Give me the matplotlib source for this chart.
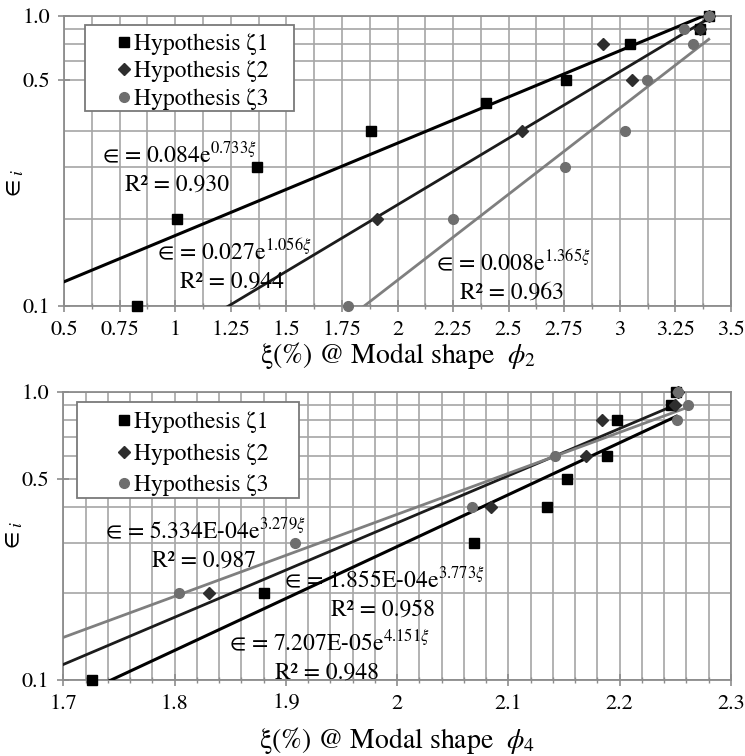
import numpy as np
import matplotlib
matplotlib.use("Agg")
import matplotlib.pyplot as plt
from matplotlib.lines import Line2D
from matplotlib.patches import Rectangle

plt.rcParams['font.family'] = ['STIXGeneral', 'DejaVu Serif']
plt.rcParams['mathtext.fontset'] = 'stix'

# ---------------- data: modal shape phi_2 (top) ----------------
top_z1_x = [0.827, 1.007, 1.37, 1.88, 2.40, 2.757, 3.044, 3.36, 3.40]
top_z1_y = [0.1, 0.2, 0.3, 0.4, 0.5, 0.6, 0.8, 0.9, 1.0]
top_z2_x = [1.91, 2.56, 2.926, 3.055, 3.36, 3.40]
top_z2_y = [0.2, 0.4, 0.8, 0.6, 0.9, 1.0]
top_z3_x = [1.776, 2.25, 2.755, 3.025, 3.12, 3.29, 3.33, 3.40]
top_z3_y = [0.1, 0.2, 0.3, 0.4, 0.6, 0.9, 0.8, 1.0]
top_fit_a = [0.084, 0.027, 0.008]
top_fit_b = [0.733, 1.056, 1.365]
top_fit_eq = ["0.084", "0.027", "0.008"]
top_fit_exp = ["0.733", "1.056", "1.365"]
top_fit_r2 = ["0.930", "0.944", "0.963"]
top_xticks = [0.5, 0.75, 1.0, 1.25, 1.5, 1.75, 2.0, 2.25, 2.5, 2.75, 3.0, 3.25, 3.5]
top_xticklabels = ["0.5", "0.75", "1", "1.25", "1.5", "1.75", "2", "2.25", "2.5", "2.75", "3", "3.25", "3.5"]
# reference places its "0.5" label on the 0.6 gridline (and shows no 0.5 gridline)
top_yticks = [0.1, 0.6, 1.0]
top_yticklabels = ["0.1", "0.5", "1.0"]
top_yminor = [0.2, 0.3, 0.4, 0.7, 0.8, 0.9]

# ---------------- data: modal shape phi_4 (bottom) ----------------
bot_z1_x = [1.7257, 1.880, 2.069, 2.135, 2.153, 2.189, 2.198, 2.246, 2.251]
bot_z1_y = [0.1, 0.2, 0.3, 0.4, 0.5, 0.6, 0.8, 0.9, 1.0]
bot_z2_x = [1.8305, 2.084, 2.170, 2.184, 2.250, 2.252]
bot_z2_y = [0.2, 0.4, 0.6, 0.8, 0.9, 1.0]
bot_z3_x = [1.8036, 1.908, 2.0676, 2.142, 2.2516, 2.2613, 2.252]
bot_z3_y = [0.2, 0.3, 0.4, 0.6, 0.8, 0.9, 1.0]
bot_fit_a = [7.207e-05, 1.855e-04, 5.334e-04]
bot_fit_b = [4.151, 3.773, 3.279]
bot_fit_eq = ["7.207E-05", "1.855E-04", "5.334E-04"]
bot_fit_exp = ["4.151", "3.773", "3.279"]
bot_fit_r2 = ["0.948", "0.958", "0.987"]
bot_xticks = [1.7, 1.8, 1.9, 2.0, 2.1, 2.2, 2.3]
bot_xticklabels = ["1.7", "1.8", "1.9", "2", "2.1", "2.2", "2.3"]
bot_yticks = [0.1, 0.5, 1.0]
bot_yticklabels = ["0.1", "0.5", "1.0"]
bot_yminor = [0.2, 0.3, 0.4, 0.6, 0.7, 0.8, 0.9]

labels = ["Hypothesis ζ1", "Hypothesis ζ2", "Hypothesis ζ3"]
mcol = ["#000000", "#2e2e2e", "#6e6e6e"]
lcol = ["#000000", "#1c1c1c", "#7f7f7f"]
mark = ["s", "D", "o"]
msize = [6.5, 6.0, 7.0]

W, H = 745, 756
fig = plt.figure(figsize=(W / 100, H / 100), dpi=100)

def fx(x):
    return x / W

def fy(y):
    return 1 - y / H

def fpos(l, t, r, b):
    return [l / W, 1 - b / H, (r - l) / W, (b - t) / H]

GRID = "#a6a6a6"
SPINE = "#8c8c8c"

def style_axes(ax, xlim, xticks, xticklabels, xminor, yticks, yticklabels, yminor):
    ax.set_yscale("log")
    ax.set_xlim(*xlim)
    ax.set_ylim(0.1, 1.0)
    ax.set_xticks(xticks)
    ax.set_xticklabels(xticklabels)
    ax.set_xticks(xminor, minor=True)
    ax.set_yticks(yticks)
    ax.set_yticklabels(yticklabels)
    ax.set_yticks(yminor, minor=True)
    ax.yaxis.set_minor_formatter(matplotlib.ticker.NullFormatter())
    ax.grid(True, which="both", color=GRID, linewidth=1.2)
    ax.set_axisbelow(True)
    for s in ax.spines.values():
        s.set_color(SPINE)
        s.set_linewidth(1.3)
    ax.tick_params(axis="both", which="major", direction="inout", length=8,
                   width=1.2, color=SPINE, labelsize=16, pad=6)
    ax.tick_params(axis="x", which="minor", direction="inout", length=4,
                   width=1.0, color=SPINE)
    ax.tick_params(axis="y", which="minor", length=0)

def draw(ax, xs, ys, a, b, xmin):
    for i in range(3):
        xx = np.linspace(xmin[i], max(xs[i]), 200)
        ax.plot(xx, a[i] * np.exp(b[i] * xx), color=lcol[i], lw=2.2 if i == 0 else 2.0,
                zorder=3)
    for i in range(3):
        ax.plot(xs[i], ys[i], linestyle="none", marker=mark[i], ms=msize[i],
                color=mcol[i], mec=mcol[i], zorder=4, clip_on=False)

def legend(l, t, r, b, mx, tx, rows):
    fig.add_artist(Rectangle((fx(l), fy(b)), fx(r) - fx(l), fy(t) - fy(b),
                             transform=fig.transFigure, facecolor="white",
                             edgecolor="#7a7a7a", linewidth=1.3, zorder=5))
    for i in range(3):
        fig.add_artist(Line2D([fx(mx)], [fy(rows[i])], linestyle="none",
                              marker=mark[i], ms=msize[i], color=mcol[i],
                              transform=fig.transFigure, zorder=6))
        fig.text(fx(tx), fy(rows[i]), labels[i], fontsize=17, va="center_baseline",
                 ha="left", zorder=6)

def eq(xpix, ypix, coef, expo, r2, dx):
    fig.text(xpix / W, 1 - ypix / H, "∈ = " + coef + "e$^{" + expo + "\\xi}$",
             fontsize=17, va="baseline", ha="left", zorder=6)
    fig.text((xpix + dx) / W, 1 - (ypix + 29) / H, "R² = " + r2,
             fontsize=17, va="baseline", ha="left", zorder=6)

# ---------------- top chart ----------------
ax1 = fig.add_axes(fpos(64, 15.7, 731, 306))
style_axes(ax1, (0.5, 3.5), top_xticks, top_xticklabels,
           np.arange(0.5, 3.5001, 0.125), top_yticks, top_yticklabels, top_yminor)
draw(ax1, [top_z1_x, top_z2_x, top_z3_x], [top_z1_y, top_z2_y, top_z3_y],
     top_fit_a, top_fit_b, [0.5, 0.5, 0.5])
legend(85, 25, 294, 111, 124, 134, [42, 69, 97])
ax1.set_xlabel("ξ(%) @ Modal shape  $\\phi_2$", fontsize=20, labelpad=0)
ax1.set_ylabel("$\\in_i$", fontsize=18)
ax1.yaxis.set_label_coords(-0.056, 0.42)

eq(102, 162, top_fit_eq[0], top_fit_exp[0], top_fit_r2[0], 23)
eq(157, 259, top_fit_eq[1], top_fit_exp[1], top_fit_r2[1], 23)
eq(436, 270, top_fit_eq[2], top_fit_exp[2], top_fit_r2[2], 24)

# ---------------- bottom chart ----------------
ax2 = fig.add_axes(fpos(63.3, 392, 731, 680))
style_axes(ax2, (1.7, 2.3), bot_xticks, bot_xticklabels,
           np.arange(1.7, 2.3001, 0.02), bot_yticks, bot_yticklabels, bot_yminor)
draw(ax2, [bot_z1_x, bot_z2_x, bot_z3_x], [bot_z1_y, bot_z2_y, bot_z3_y],
     bot_fit_a, bot_fit_b, [1.7, 1.7, 1.7])
legend(77, 402, 299, 498, 124, 134, [420, 452, 483])
ax2.set_xlabel("ξ(%) @ Modal shape  $\\phi_4$", fontsize=20, labelpad=8)
ax2.set_ylabel("$\\in_i$", fontsize=18)
ax2.yaxis.set_label_coords(-0.056, 0.5)

eq(105, 538, bot_fit_eq[2], bot_fit_exp[2], bot_fit_r2[2], 47)
eq(284, 587, bot_fit_eq[1], bot_fit_exp[1], bot_fit_r2[1], 47)
eq(229, 650, bot_fit_eq[0], bot_fit_exp[0], bot_fit_r2[0], 46)

fig.savefig("out.png", dpi=100)
